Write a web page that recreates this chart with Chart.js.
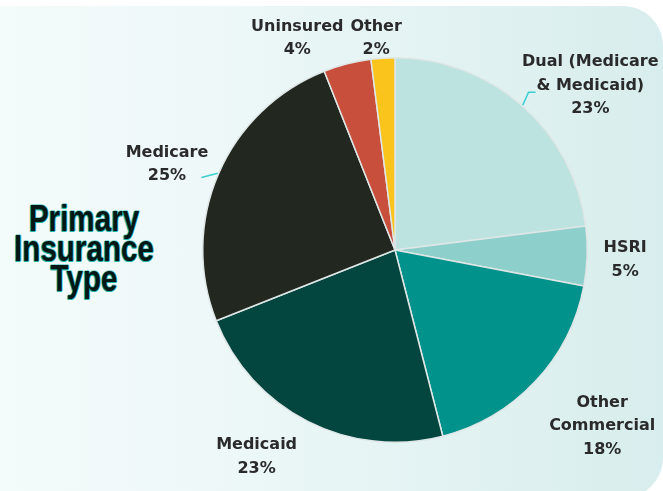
<!DOCTYPE html>
<html>
<head>
<meta charset="utf-8">
<script src="https://cdn.jsdelivr.net/npm/chart.js@4/dist/chart.umd.min.js"></script>
<style>
  html, body { margin: 0; padding: 0; background: #ffffff; overflow: hidden; }
  #wrap { position: relative; width: 663px; height: 491px; overflow: hidden; background: #ffffff; }
  #panel {
    position: absolute; left: -40px; top: 6px; width: 703px; height: 492px;
    border-radius: 0 40px 40px 0;
    background: linear-gradient(to right, #f5fbfb 0%, #eef8f8 35%, #e2f2f2 70%, #d8eded 100%);
  }
  #title {
    position: absolute; left: 84px; top: 204px; width: 200px; margin-left: -100px; text-align: center;
    font-family: "Liberation Sans", Arial, sans-serif; font-weight: bold;
    font-size: 37px; line-height: 30px; color: #031714;
    transform: scaleX(0.8); transform-origin: 50% 0;
    text-shadow: -1px 1px 0 #22b5ae, -1px 0 0 #22b5ae, 0 1px 0 #22b5ae, 1px 0 0 rgba(34,181,174,0.6), 0 -1px 0 rgba(34,181,174,0.5);
  }
  canvas { position: absolute; left: 0; top: 0; }
</style>
</head>
<body>
<div id="wrap">
  <div id="panel"></div>
  <div id="title">Primary<br>Insurance<br>Type</div>
  <canvas id="c" width="663" height="491"></canvas>
</div>
<script>
// ---- data ----
const categories = [
  ["Dual (Medicare", "& Medicaid)"],
  ["HSRI"],
  ["Other", "Commercial"],
  ["Medicaid"],
  ["Medicare"],
  ["Uninsured"],
  ["Other"]
];
const shares = [23, 5, 18, 23, 25, 4, 2];
const sliceColors = ["#bce3e0", "#8dd0cb", "#00928b", "#02463f", "#22271f", "#c74f3c", "#fbc41c"];

// ---- label layout (polar: degrees clockwise from top, radius factor) ----
const labelAngle = [49.9, 92.4, 130.4, 213.8, 290.6, 335.2, 354.9];
const labelRadius = [1.328, 1.198, 1.415, 1.294, 1.267, 1.212, 1.105];
const leaderLines = [true, false, false, false, true, false, false];

const labelPlugin = {
  id: 'sliceLabels',
  afterDatasetsDraw(chart) {
    const ctx = chart.ctx;
    const arcs = chart.getDatasetMeta(0).data;
    ctx.save();
    arcs.forEach((arc, i) => {
      const cx = arc.x, cy = arc.y, r = arc.outerRadius;
      const mid = (arc.startAngle + arc.endAngle) / 2;
      if (leaderLines[i]) {
        const p0 = [cx + Math.cos(mid) * r * 1.005, cy + Math.sin(mid) * r * 1.005];
        const a2 = mid + (i === 0 ? -0.02 : -0.05);
        const p1 = [cx + Math.cos(a2) * r * 1.075, cy + Math.sin(a2) * r * 1.075];
        ctx.strokeStyle = '#3ccfcf';
        ctx.lineWidth = 1.5;
        ctx.beginPath();
        ctx.moveTo(p0[0], p0[1]);
        ctx.lineTo(p1[0], p1[1]);
        if (i === 0) ctx.lineTo(p1[0] + 7, p1[1]);
        ctx.stroke();
      }
      const a = (labelAngle[i] - 90) * Math.PI / 180;
      const lx = cx + Math.cos(a) * r * labelRadius[i];
      const ly = cy + Math.sin(a) * r * labelRadius[i];
      const lines = categories[i].concat([shares[i] + '%']);
      const lh = 23.5;
      ctx.fillStyle = '#2a2a2a';
      ctx.font = 'bold 16px "DejaVu Sans", sans-serif';
      ctx.textAlign = 'center';
      ctx.textBaseline = 'middle';
      lines.forEach((t, k) => {
        ctx.fillText(t, lx, ly + (k - (lines.length - 1) / 2) * lh);
      });
    });
    ctx.restore();
  }
};

new Chart(document.getElementById('c'), {
  type: 'pie',
  data: {
    labels: categories,
    datasets: [{
      data: shares,
      backgroundColor: sliceColors,
      borderColor: '#dfe6e6',
      borderWidth: 1.5,
      hoverOffset: 0,
      offset: 0
    }]
  },
  options: {
    responsive: false,
    animation: false,
    layout: { padding: { left: 202, right: 75, top: 57, bottom: 48 } },
    plugins: { legend: { display: false }, tooltip: { enabled: false }, title: { display: false } }
  },
  plugins: [labelPlugin]
});
</script>
</body>
</html>
